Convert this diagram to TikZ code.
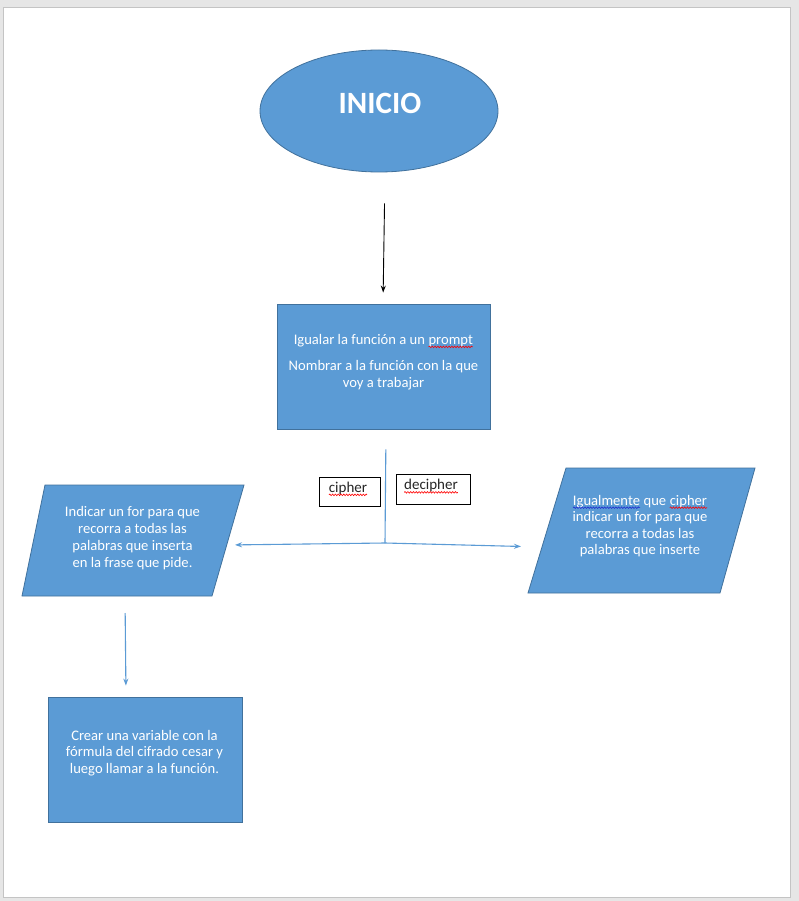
\documentclass[tikz,border=0pt]{standalone}
\usepackage{fontspec}
\setmainfont{Carlito}
\usetikzlibrary{arrows.meta,shapes.geometric,decorations.pathmorphing}
\definecolor{boxfill}{HTML}{5B9BD5}
\definecolor{boxline}{HTML}{41719C}
\definecolor{pagegray}{HTML}{E6E6E6}
\definecolor{pageedge}{HTML}{C4C4C4}
\definecolor{labeltext}{HTML}{262626}
\definecolor{waveblue}{HTML}{2030D0}
\newcommand\wavyword[2]{\tikz[baseline=(ww.base),x=1cm,y=1cm]{\node[shape=rectangle,draw=none,fill=none,inner sep=0pt,outer sep=0pt,minimum width=0pt,minimum height=0pt] (ww) {#2};\draw[draw=#1,line width=0.6pt,decorate,decoration={snake,amplitude=0.8pt,segment length=2.8pt}] ([yshift=-2.4pt]ww.base west) -- ([yshift=-2.4pt]ww.base east);}}
\tikzset{
  shapefill/.style={fill=boxfill, draw=boxline, line width=0.8pt},
  boxtext/.style={text=white, align=center, font=\fontsize{14.6}{16.8}\selectfont, inner sep=0pt},
  rectbox/.style={shapefill, rectangle, inner sep=0pt},
  labelbox/.style={draw=black, fill=white, line width=0.9pt, inner sep=0pt},
  labeltxt/.style={text=labeltext, font=\fontsize{15}{17}\selectfont, inner sep=0pt},
  blackarrow/.style={draw=black, line width=0.9pt, -{Stealth[length=7pt,width=5pt]}},
  blueline/.style={draw=boxfill, line width=1.1pt},
  bluearrow/.style={blueline, -{Stealth[length=7pt,width=5pt]}},
}
\begin{document}
\begin{tikzpicture}[x=1pt,y=-1pt]
\useasboundingbox (0,0) rectangle (799,901);
\fill[pagegray] (0,0) rectangle (799,901);
\draw[fill=white, draw=pageedge, line width=1pt] (3,8) rectangle (790,897);

% start ellipse
\node[ellipse, shapefill, minimum width=238, minimum height=122, inner sep=0pt] (inicio) at (379,111) {};
\node[text=white, font=\fontsize{31}{34}\selectfont\bfseries, inner sep=0pt] (iniciotext) at (380,103) {INICIO};

% first box
\node[rectbox, minimum width=213, minimum height=125] (box1) at (383.5,366.5) {};
\node[boxtext] (box1text) at (383.5,362) {Igualar la función a un \wavyword{red}{prompt}\\[9pt]Nombrar a la función con la que\\voy a trabajar};

% left parallelogram
\path[shapefill] (45,485) -- (244,485) -- (212,596) -- (22,596) -- cycle;
\node[boxtext, font=\fontsize{14.6}{17}\selectfont] (para1) at (132.5,538) {Indicar un for para que\\recorra a todas las\\palabras que inserta\\en la frase que pide.};
\coordinate (para1right) at (227,545);
\coordinate (para1bottom) at (125,596);

% right parallelogram
\path[shapefill] (566,468) -- (755,468) -- (720,593) -- (528,593) -- cycle;
\node[boxtext, font=\fontsize{14.6}{16.4}\selectfont] (para2) at (640,526) {\wavyword{waveblue}{Igualmente} que \wavyword{red}{cipher}\\indicar un for para que\\recorra a todas las\\palabras que inserte};
\coordinate (para2left) at (542,547);

% bottom box
\node[rectbox, minimum width=194, minimum height=125] (box3) at (145,759.5) {};
\node[boxtext, font=\fontsize{14.6}{16.5}\selectfont] (box3text) at (144.5,753) {Crear una variable con la\\fórmula del cifrado cesar y\\luego llamar a la función.};

% labels
\node[labelbox, minimum width=61, minimum height=29] (cipher) at (349.5,491.5) {};
\node[labeltxt] (ciphertext) at (348,489) {\wavyword{red}{cipher}};
\node[labelbox, minimum width=74, minimum height=30] (decipher) at (433,489) {};
\node[labeltxt] (deciphertext) at (431,486.5) {\wavyword{red}{decipher}};

% connectors
\coordinate (split) at (385,543);
\draw[blackarrow, shorten <=31pt, shorten >=11pt] ([xshift=6]inicio.south) -- ([xshift=-0.5]box1.north);
\draw[blueline, shorten <=20pt] ([xshift=2.5]box1.south) -- (split);
\draw[bluearrow, shorten >=8pt] (split) -- (para1right);
\draw[bluearrow, shorten >=21pt] (split) -- (para2left);
\draw[bluearrow, shorten <=17pt, shorten >=11pt] (para1bottom) -- ([xshift=-19]box3.north);
\end{tikzpicture}
\end{document}
